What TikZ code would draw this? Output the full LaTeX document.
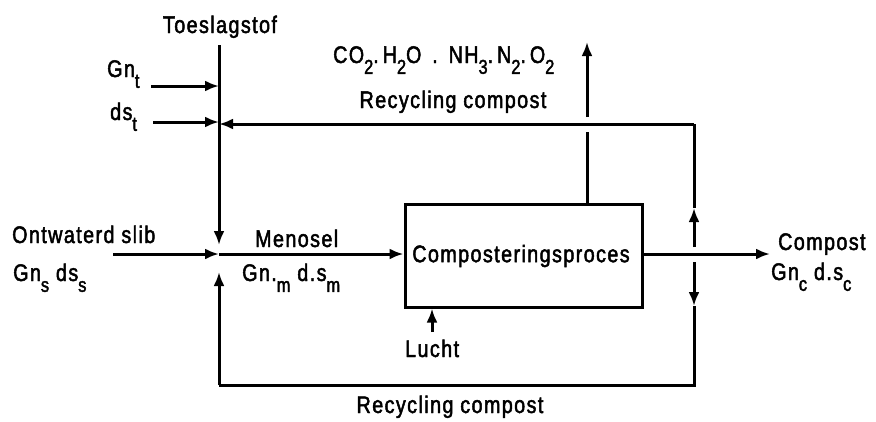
\documentclass[tikz,border=0pt]{standalone}
\usepackage{fontspec}
\setmainfont[LetterSpace=6,FakeStretch=0.82,FakeBold=2]{Liberation Sans}
\usetikzlibrary{arrows.meta}
\newcommand{\lowsub}[1]{\raisebox{-0.45em}{\fontsize{20}{20}\selectfont #1}}
\begin{document}
\begin{tikzpicture}[x=1pt,y=-1pt,
  flow/.style={line width=3pt},
  arr/.style={flow,-{Latex[length=14pt,width=11pt]}},
  lbl/.style={anchor=base west,inner sep=0pt,font=\fontsize{24}{24}\selectfont}]
\useasboundingbox (0,0) rectangle (876,421);
% process box
\node[draw,line width=3pt,minimum width=237pt,minimum height=103pt,inner sep=0pt] (box) at (523.5,255.5) {};
\node[inner sep=0pt,font=\fontsize{24}{24}\selectfont] (boxtxt) at (521,256) {Composteringsproces};
% coordinates
\coordinate (ttop) at (219,45);
\coordinate (mix) at (219,254);
\coordinate (mixA) at (219,245);
\coordinate (mixB) at (219,272);
\coordinate (gnts) at (151,86);
\coordinate (gnte) at (219,86);
\coordinate (dsts) at (153,122);
\coordinate (dste) at (219,122);
\coordinate (rtr) at (694,124);
\coordinate (rtl) at (219,124);
\coordinate (gasb) at (587,204);
\coordinate (gasg1) at (587,132);
\coordinate (gasg2) at (587,117);
\coordinate (gast) at (587,42);
\coordinate (slibs) at (113,254);
\coordinate (compe) at (770,254);
\coordinate (upA) at (694,247);
\coordinate (upM) at (694,208);
\coordinate (dnA) at (694,262);
\coordinate (dnM) at (694,306);
\coordinate (rbr) at (694,385);
\coordinate (rbl) at (219,385);
\coordinate (luchts) at (432,332);
% connectors
\draw[arr] (ttop) -- (mixA);
\draw[arr] (gnts) -- (gnte);
\draw[arr] (dsts) -- (dste);
\draw[arr] (rtr) -- (rtl);
\draw[flow] (gasb) -- (gasg1);
\draw[arr] (gasg2) -- (gast);
\draw[arr] (slibs) -- (mix);
\draw[arr] (mix) -- (box.west |- mix);
\draw[arr] (box.east |- compe) -- (compe);
\draw[arr] (upA) -- (upM);
\draw[flow] (upM) -- (rtr);
\draw[arr] (dnA) -- (dnM);
\draw[flow] (dnM) -- (rbr) -- (rbl);
\draw[arr] (rbl) -- (mixB);
\draw[arr] (luchts) -- (box.south -| luchts);
% labels
\node[anchor=base,inner sep=0pt,font=\fontsize{24}{24}\selectfont] (toes) at (220,33) {Toeslagstof};
\node[lbl] (gnt) at (107,77) {Gn\lowsub{t}};
\node[lbl] (dst) at (110,120) {ds\lowsub{t}};
\node[lbl] (gas) at (333,63) {CO\lowsub{2}.\,H\lowsub{2}O\, .\, NH\lowsub{3}.\,N\lowsub{2}.\,O\lowsub{2}};
\node[anchor=base,inner sep=0pt,font=\fontsize{24}{24}\selectfont] (rect) at (453,108) {Recycling compost};
\node[lbl] (slib) at (12,243) {Ontwaterd slib};
\node[lbl] (gns) at (13,281) {Gn\lowsub{s} ds\lowsub{s}};
\node[lbl] (meng) at (255,247) {Menosel};
\node[lbl] (gnm) at (242,281) {Gn.\lowsub{m} d.s\lowsub{m}};
\node[lbl] (lucht) at (405,357) {Lucht};
\node[lbl] (comp) at (778,250) {Compost};
\node[lbl] (gnc) at (771,280) {Gn\lowsub{c} d.s\lowsub{c}};
\node[anchor=base,inner sep=0pt,font=\fontsize{24}{24}\selectfont] (recb) at (450,413) {Recycling compost};
\end{tikzpicture}
\end{document}
